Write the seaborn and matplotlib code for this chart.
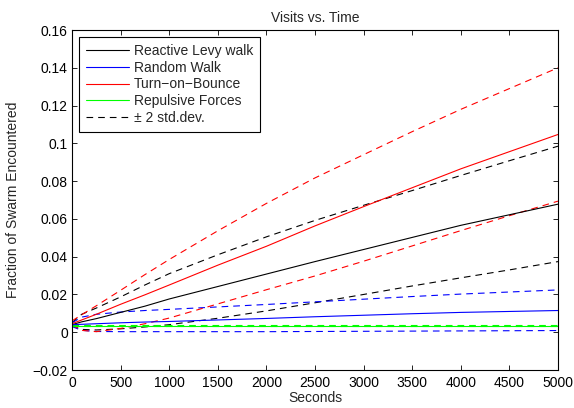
import matplotlib
matplotlib.use("Agg")
import matplotlib.pyplot as plt
import seaborn as sns

seconds = [0, 100, 250, 500, 750, 1000, 1500, 2000, 2500, 3000, 3500, 4000, 4500, 5000]

levy_mean = [0.0040, 0.0055, 0.0072, 0.0105, 0.0138, 0.0176, 0.0242, 0.0308, 0.0374, 0.0438, 0.0502, 0.0566, 0.0622, 0.0678]
levy_upper = [0.0050, 0.0095, 0.0128, 0.0187, 0.0250, 0.0310, 0.0410, 0.0505, 0.0592, 0.0672, 0.0750, 0.0830, 0.0908, 0.0985]
levy_lower = [0.0035, 0.0015, 0.0012, 0.0018, 0.0028, 0.0040, 0.0074, 0.0113, 0.0156, 0.0200, 0.0245, 0.0288, 0.0330, 0.0374]

random_mean = [0.0040, 0.0042, 0.0045, 0.0050, 0.0054, 0.0057, 0.0065, 0.0073, 0.0082, 0.0090, 0.0098, 0.0105, 0.0110, 0.0115]
random_upper = [0.0050, 0.0080, 0.0095, 0.0107, 0.0115, 0.0121, 0.0134, 0.0147, 0.0161, 0.0175, 0.0189, 0.0202, 0.0213, 0.0224]
random_lower = [0.0030, 0.0010, 0.0004, 0.0003, 0.0003, 0.0003, 0.0003, 0.0003, 0.0004, 0.0005, 0.0006, 0.0007, 0.0008, 0.0009]

bounce_mean = [0.0045, 0.0065, 0.0095, 0.0148, 0.0198, 0.0250, 0.0355, 0.0455, 0.0563, 0.0665, 0.0765, 0.0865, 0.0956, 0.1047]
bounce_upper = [0.0060, 0.0093, 0.0140, 0.0222, 0.0305, 0.0385, 0.0537, 0.0682, 0.0817, 0.0940, 0.1062, 0.1180, 0.1290, 0.1400]
bounce_lower = [0.0040, 0.0010, 0.0003, 0.0020, 0.0045, 0.0075, 0.0150, 0.0225, 0.0298, 0.0376, 0.0457, 0.0538, 0.0617, 0.0694]

repulsive_mean = [0.0034, 0.0034, 0.0034, 0.0034, 0.0034, 0.0034, 0.0034, 0.0034, 0.0034, 0.0034, 0.0034, 0.0034, 0.0034, 0.0034]
repulsive_upper = [0.0037, 0.0037, 0.0037, 0.0037, 0.0037, 0.0037, 0.0037, 0.0037, 0.0037, 0.0037, 0.0037, 0.0037, 0.0037, 0.0037]
repulsive_lower = [0.0031, 0.0031, 0.0031, 0.0031, 0.0031, 0.0031, 0.0031, 0.0031, 0.0031, 0.0031, 0.0031, 0.0031, 0.0031, 0.0031]

series_names = ["Reactive Levy walk", "Random Walk", "Turn\u2212on\u2212Bounce", "Repulsive Forces"]
series_colors = ["#000000", "#0000ff", "#ff0000", "#00ff00"]
std_label = "\u00b1 2 std.dev."

x_ticks = [0, 500, 1000, 1500, 2000, 2500, 3000, 3500, 4000, 4500, 5000]
y_ticks = [-0.02, 0, 0.02, 0.04, 0.06, 0.08, 0.10, 0.12, 0.14, 0.16]
y_tick_labels = ["\u22120.02", "0", "0.02", "0.04", "0.06", "0.08", "0.1", "0.12", "0.14", "0.16"]

sns.set_theme(style="ticks")
plt.rcParams["font.family"] = ["Liberation Sans", "DejaVu Sans"]
plt.rcParams["axes.linewidth"] = 0.8

fig = plt.figure(figsize=(5.74, 4.08), dpi=100)
ax = fig.add_axes([0.1254, 0.0931, 0.8467, 0.8333])

means = [levy_mean, random_mean, bounce_mean, repulsive_mean]
uppers = [levy_upper, random_upper, bounce_upper, repulsive_upper]
lowers = [levy_lower, random_lower, bounce_lower, repulsive_lower]

lw = 0.8
dash = (6, 4.5)
for up, lo, col in zip(uppers, lowers, series_colors):
    for vals in (up, lo):
        sns.lineplot(x=seconds, y=vals, color=col, linewidth=lw, ax=ax,
                     legend=False).lines[-1].set_dashes(dash)
for m, col, name in zip(means, series_colors, series_names):
    sns.lineplot(x=seconds, y=m, color=col, linewidth=lw, ax=ax, label=name)

ax.plot([], [], color="black", linewidth=lw, dashes=dash, label=std_label)

handles, labels = ax.get_legend_handles_labels()
order = series_names + [std_label]
hmap = dict(zip(labels, handles))
leg = ax.legend([hmap[k] for k in order], order, loc="upper left",
                fontsize=10, frameon=True, fancybox=False, framealpha=1,
                edgecolor="black", handlelength=3.1, borderpad=0.5,
                labelspacing=0.2, handletextpad=0.36,
                borderaxespad=0.5)
leg.get_frame().set_linewidth(0.8)

ax.set_xlim(0, 5000)
ax.set_ylim(-0.02, 0.16)
ax.set_xticks(x_ticks)
ax.set_xticklabels([str(t) for t in x_ticks])
ax.set_yticks(y_ticks)
ax.set_yticklabels(y_tick_labels)
ax.tick_params(direction="in", top=True, right=True, length=3.5, width=0.6,
               labelsize=10, colors="black", pad=3)
ax.tick_params(axis="x", pad=4)
for s in ax.spines.values():
    s.set_visible(True)
    s.set_color("black")

ax.set_title("Visits vs. Time", fontsize=10, pad=6)
ax.set_xlabel("Seconds", fontsize=10, labelpad=1)
ax.set_ylabel("Fraction of Swarm Encountered", fontsize=10, labelpad=9)

fig.savefig("out.png", dpi=100, facecolor="white")
